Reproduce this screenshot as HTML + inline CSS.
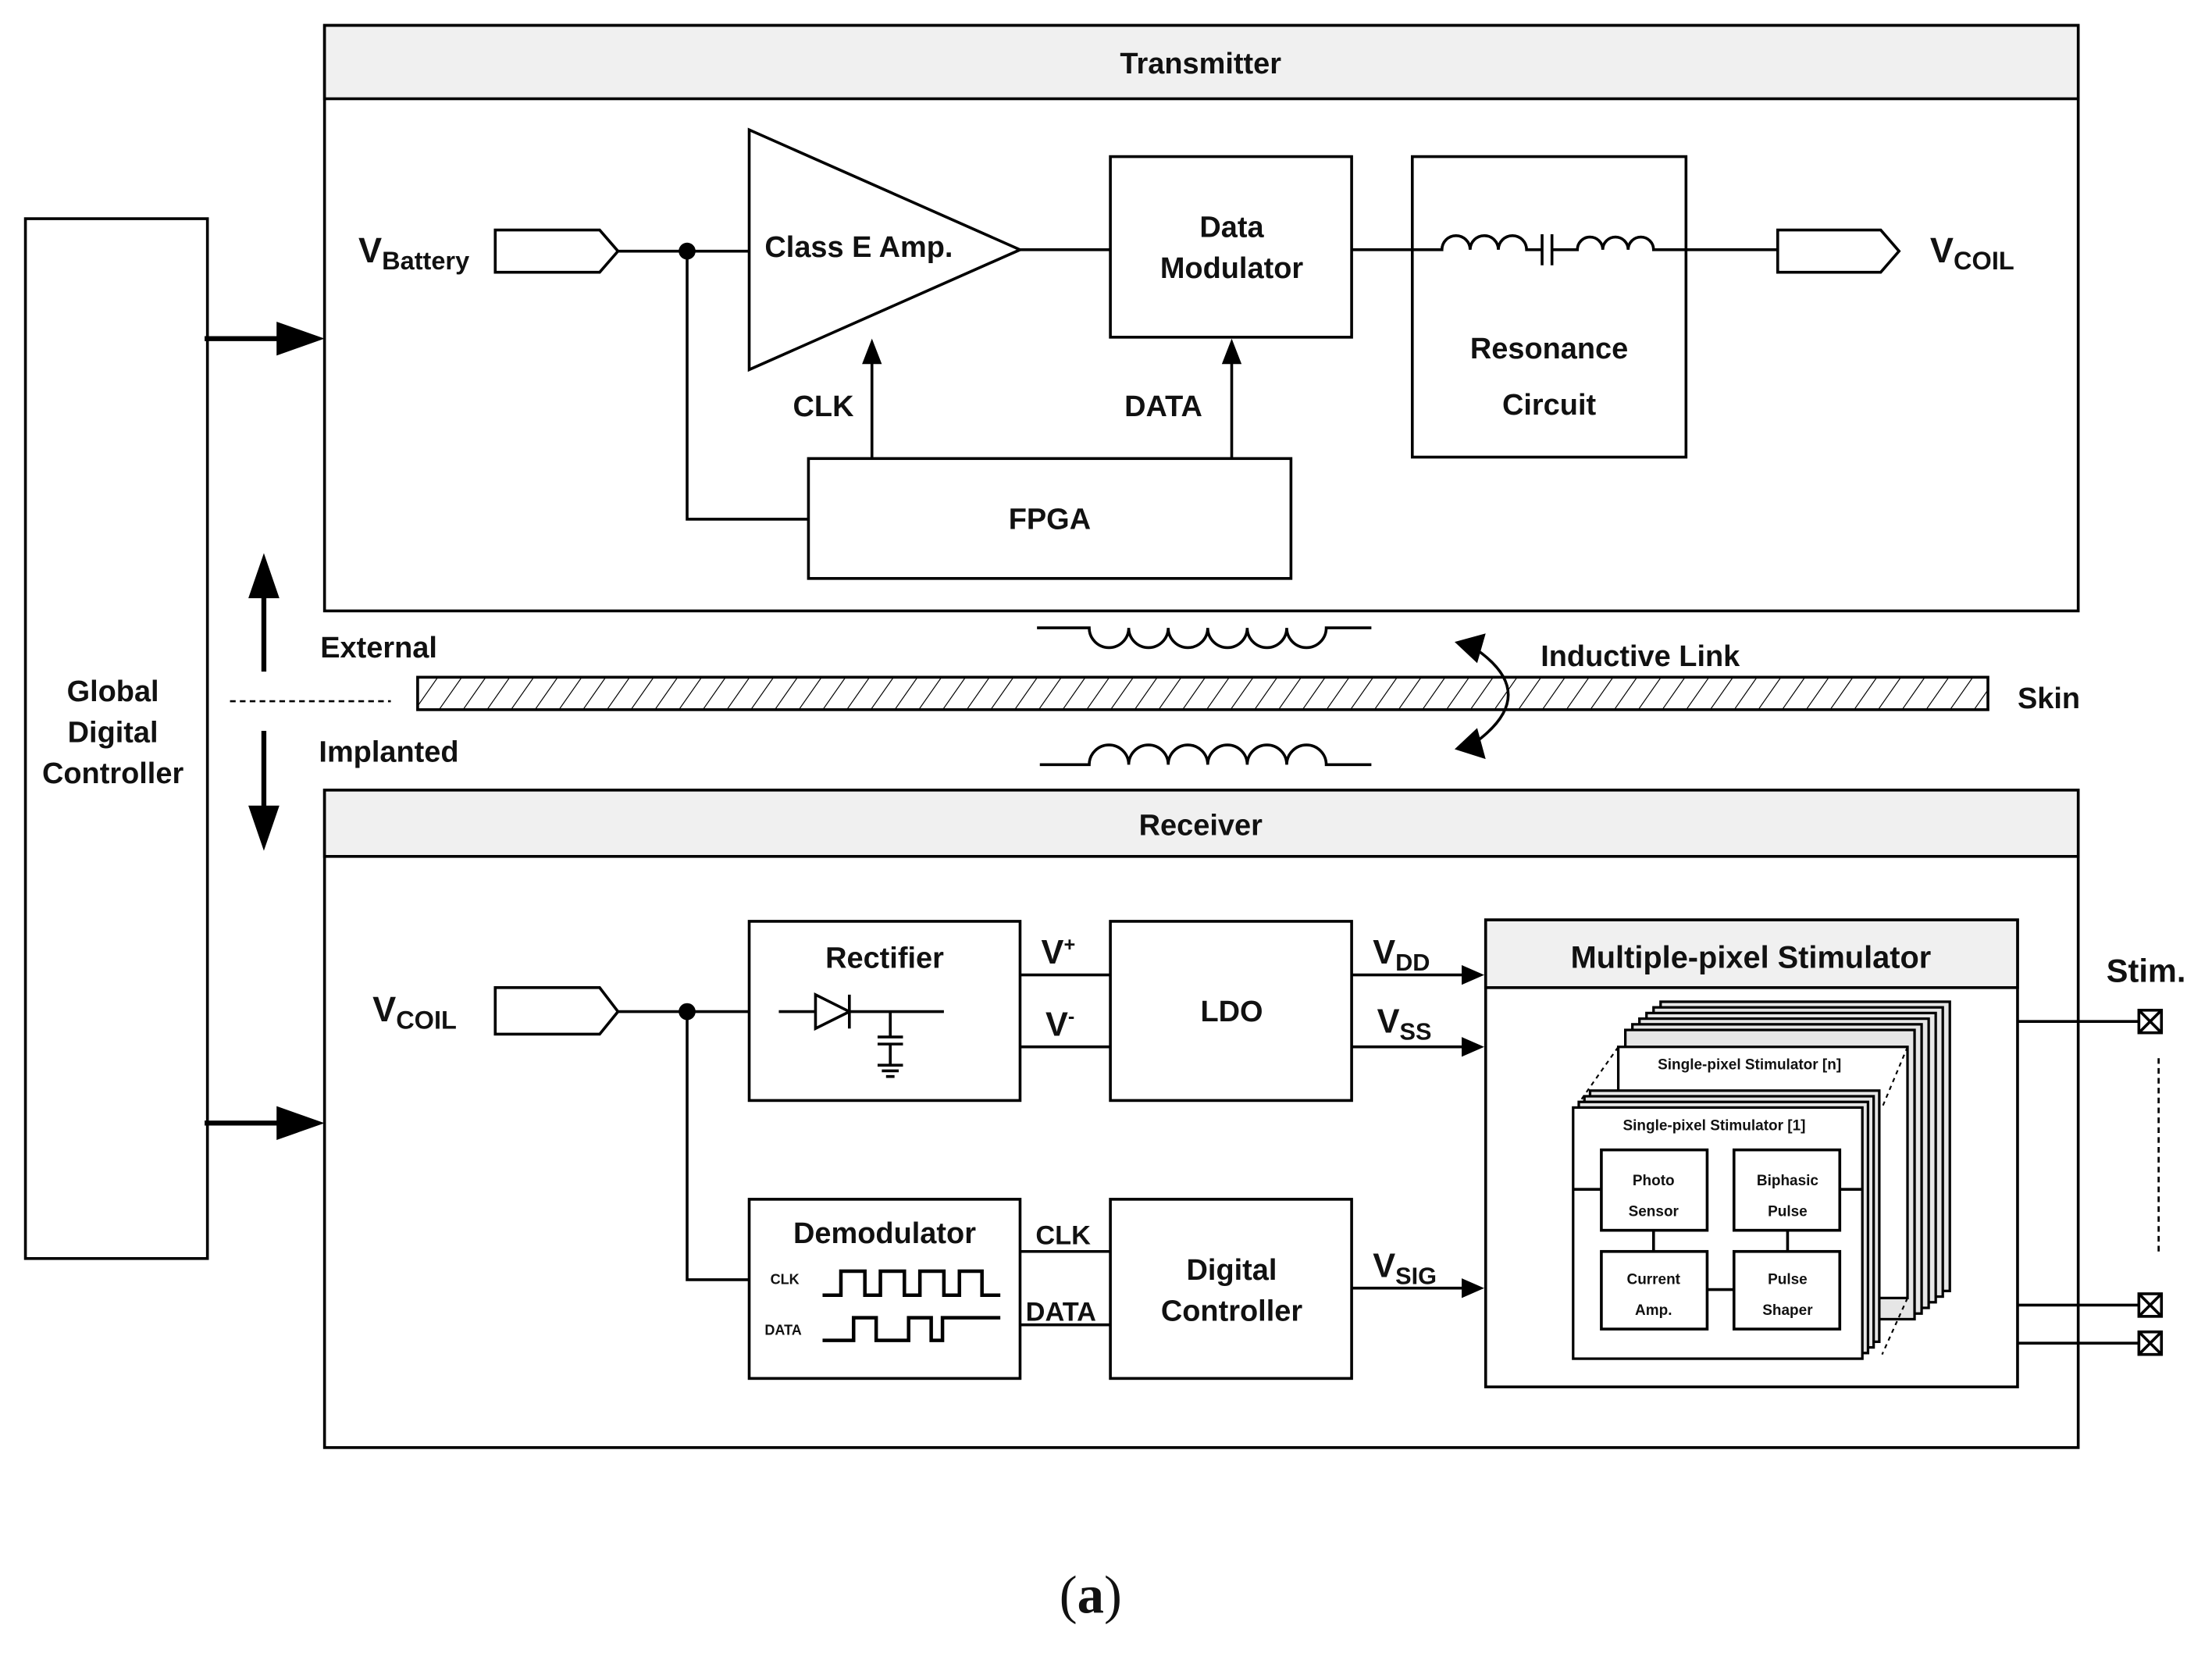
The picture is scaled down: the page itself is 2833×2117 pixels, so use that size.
<!DOCTYPE html>
<html><head><meta charset="utf-8"><style>html,body{margin:0;padding:0;background:#fff}svg{display:block}</style></head><body>
<svg width="2833" height="2117" viewBox="0 0 1567.8 1171.6" xmlns="http://www.w3.org/2000/svg" font-family="Liberation Sans, sans-serif" font-weight="bold">
<defs>
<pattern id="h" patternUnits="userSpaceOnUse" width="17" height="24" patternTransform="skewX(-35)"><line x1="0" y1="0" x2="0" y2="24" stroke="#000" stroke-width="1.6"/></pattern>
</defs>
<g stroke="#000" stroke-width="2" fill="none">
<rect x="18" y="155" width="129" height="737" fill="#fff"/>
<rect x="230" y="18" width="1243" height="415" fill="#fff"/>
<rect x="230" y="18" width="1243" height="52" fill="#f0f0f0"/>
<rect x="230" y="560" width="1243" height="466" fill="#fff"/>
<rect x="230" y="560" width="1243" height="47" fill="#f0f0f0"/>
</g>
<g stroke="#000" stroke-width="3.5" fill="#000">
<line x1="145" y1="240" x2="205" y2="240"/><path d="M230,240 L196,228 L196,252z" stroke="none"/>
<line x1="145" y1="796" x2="205" y2="796"/><path d="M230,796 L196,784 L196,808z" stroke="none"/>
<line x1="187" y1="476" x2="187" y2="420"/><path d="M187,392 L176,424 L198,424z" stroke="none"/>
<line x1="187" y1="518" x2="187" y2="574"/><path d="M187,603 L176,571 L198,571z" stroke="none"/>
</g>
<line x1="163" y1="497" x2="277" y2="497" stroke="#000" stroke-width="1.5" stroke-dasharray="4,3"/>
<rect x="296" y="480" width="1113" height="23" fill="url(#h)" stroke="#000" stroke-width="2"/>
<g stroke="#000" stroke-width="2" fill="none">
<path d="M735,445 H772 a14,14 0 0 0 28,0 a14,14 0 0 0 28,0 a14,14 0 0 0 28,0 a14,14 0 0 0 28,0 a14,14 0 0 0 28,0 a14,14 0 0 0 28,0 H972"/>
<path d="M737,542 H772 a14,14 0 0 1 28,0 a14,14 0 0 1 28,0 a14,14 0 0 1 28,0 a14,14 0 0 1 28,0 a14,14 0 0 1 28,0 a14,14 0 0 1 28,0 H972"/>
<path d="M1046,460 Q1092,492 1046,526"/>
</g>
<path d="M1031,455 L1053,449 L1047,470z" fill="#000"/>
<path d="M1031,531 L1047,516 L1053,538z" fill="#000"/>

<g stroke="#000" stroke-width="2" fill="#fff">
<path d="M351,163 H425 L438,178 L425,193 H351z"/>
<path d="M531,92 L531,262 L723,177z"/>
<rect x="787" y="111" width="171" height="128"/>
<rect x="1001" y="111" width="194" height="213"/>
<rect x="573" y="325" width="342" height="85"/>
<path d="M1260,163 H1333 L1346,178 L1333,193 H1260z"/>
</g>
<g stroke="#000" stroke-width="2" fill="none">
<line x1="438" y1="178" x2="531" y2="178"/>
<polyline points="487,178 487,368 573,368"/>
<line x1="723" y1="177" x2="787" y2="177"/>
<path d="M958,177 H1022 a10,10 0 0 1 20,0 a10,10 0 0 1 20,0 a10,10 0 0 1 20,0 H1093 M1093,166 V188 M1100,166 V188 M1100,177 H1118 a9,9 0 0 1 18,0 a9,9 0 0 1 18,0 a9,9 0 0 1 18,0 H1260"/>
<line x1="618" y1="325" x2="618" y2="255"/>
<line x1="873" y1="325" x2="873" y2="255"/>
</g>
<path d="M618,240 L611,258 L625,258z M873,240 L866,258 L880,258z" fill="#000"/>
<circle cx="487" cy="178" r="6" fill="#000"/>

<g stroke="#000" stroke-width="2" fill="#fff">
<path d="M351,700 H425 L438,717 L425,733 H351z"/>
<rect x="531" y="653" width="192" height="127"/>
<rect x="787" y="653" width="171" height="127"/>
<rect x="531" y="850" width="192" height="127"/>
<rect x="787" y="850" width="171" height="127"/>
<rect x="1053" y="652" width="377" height="331"/>
<rect x="1053" y="652" width="377" height="48" fill="#f0f0f0"/>
</g>
<g stroke="#000" stroke-width="2" fill="none">
<line x1="438" y1="717" x2="531" y2="717"/>
<polyline points="487,717 487,907 531,907"/>
<line x1="723" y1="691" x2="787" y2="691"/>
<line x1="723" y1="742" x2="787" y2="742"/>
<line x1="723" y1="887" x2="787" y2="887"/>
<line x1="723" y1="939" x2="787" y2="939"/>
<line x1="958" y1="691" x2="1038" y2="691"/>
<line x1="958" y1="742" x2="1038" y2="742"/>
<line x1="958" y1="913" x2="1038" y2="913"/>
<path d="M552,717 H578 M578,705 V729 L602,717z M602,705 V729 M602,717 H669 M631,717 V735 M622,735 H640 M622,740 H640 M631,740 V755 M622,755 H640 M625,759 H637 M628,763 H634"/>
<path d="M583,918 H596 V901 H613 V918 H624 V901 H641 V918 H652 V901 H669 V918 H680 V901 H696 V918 H709" stroke-width="2.5"/>
<path d="M583,950 H605 V934 H621 V950 H644 V934 H660 V950 H668 V934 H709" stroke-width="2.5"/>
<line x1="1430" y1="724" x2="1516" y2="724"/>
<line x1="1430" y1="925" x2="1516" y2="925"/>
<line x1="1430" y1="952" x2="1516" y2="952"/>
<line x1="1530" y1="750" x2="1530" y2="890" stroke-width="1.5" stroke-dasharray="4,3"/>
</g>
<path d="M1052,691 L1036,684 L1036,698z M1052,742 L1036,735 L1036,749z M1052,913 L1036,906 L1036,920z" fill="#000"/>
<circle cx="487" cy="717" r="6" fill="#000"/>
<g stroke="#000" stroke-width="2" fill="#fff">
<rect x="1516" y="716" width="16" height="16"/><path d="M1516,716 L1532,732 M1532,716 L1516,732"/>
<rect x="1516" y="917" width="16" height="16"/><path d="M1516,917 L1532,933 M1532,917 L1516,933"/>
<rect x="1516" y="944" width="16" height="16"/><path d="M1516,944 L1532,960 M1532,944 L1516,960"/>
</g>
<g stroke="#000" stroke-width="1.8" fill="#e6e6e6">
<rect x="1177" y="710" width="205" height="205"/>
<rect x="1172" y="714" width="205" height="205"/>
<rect x="1167" y="718" width="205" height="205"/>
<rect x="1162" y="722" width="205" height="205"/>
<rect x="1157" y="726" width="205" height="205"/>
<rect x="1152" y="730" width="205" height="205"/>
<rect x="1147" y="742" width="205" height="178" fill="#fff"/>
<rect x="1127" y="773" width="205" height="178"/>
<rect x="1123" y="777" width="205" height="178"/>
<rect x="1119" y="781" width="205" height="178"/>
<rect x="1115" y="785" width="205" height="178" fill="#fff"/>
</g>
<g stroke="#000" stroke-width="1.2" stroke-dasharray="3,3" fill="none">
<line x1="1121" y1="779" x2="1147" y2="742"/>
<line x1="1352" y1="742" x2="1334" y2="785"/>
<line x1="1352" y1="920" x2="1334" y2="960"/>
</g>
<g stroke="#000" stroke-width="2" fill="#fff">
<line x1="1115" y1="843" x2="1135" y2="843"/>
<line x1="1304" y1="843" x2="1320" y2="843"/>
<line x1="1172" y1="872" x2="1172" y2="887"/>
<line x1="1267" y1="872" x2="1267" y2="887"/>
<line x1="1210" y1="914" x2="1229" y2="914"/>
<rect x="1135" y="815" width="75" height="57"/>
<rect x="1229" y="815" width="75" height="57"/>
<rect x="1135" y="887" width="75" height="55"/>
<rect x="1229" y="887" width="75" height="55"/>
</g>

<g fill="#111" font-size="21">
<text x="851" y="52" text-anchor="middle">Transmitter</text>
<text x="851" y="592" text-anchor="middle">Receiver</text>
<text x="80" y="497" text-anchor="middle">Global</text>
<text x="80" y="526" text-anchor="middle">Digital</text>
<text x="80" y="555" text-anchor="middle">Controller</text>
<text x="227" y="466">External</text>
<text x="226" y="540">Implanted</text>
<text x="1092" y="472">Inductive Link</text>
<text x="1430" y="502">Skin</text>
<text x="254" y="186" font-size="25">V<tspan font-size="18" dy="5">Battery</tspan></text>
<text x="1368" y="186" font-size="25">V<tspan font-size="18" dy="5">COIL</tspan></text>
<text x="264" y="724" font-size="25">V<tspan font-size="18" dy="5">COIL</tspan></text>
<text x="542" y="182">Class E Amp.</text>
<text x="873" y="168" text-anchor="middle">Data</text>
<text x="873" y="197" text-anchor="middle">Modulator</text>
<text x="1098" y="254" text-anchor="middle">Resonance</text>
<text x="1098" y="294" text-anchor="middle">Circuit</text>
<text x="744" y="375" text-anchor="middle">FPGA</text>
<text x="562" y="295">CLK</text>
<text x="797" y="295">DATA</text>
<text x="627" y="686" text-anchor="middle">Rectifier</text>
<text x="873" y="724" text-anchor="middle">LDO</text>
<text x="627" y="881" text-anchor="middle">Demodulator</text>
<text x="873" y="907" text-anchor="middle">Digital</text>
<text x="873" y="936" text-anchor="middle">Controller</text>
<text x="1241" y="686" text-anchor="middle" font-size="22">Multiple-pixel Stimulator</text>
<text x="1493" y="696" font-size="23">Stim.</text>
<text x="738" y="683" font-size="24">V<tspan font-size="14" dy="-9">+</tspan></text>
<text x="741" y="734" font-size="24">V<tspan font-size="14" dy="-9">-</tspan></text>
<text x="734" y="882" font-size="19">CLK</text>
<text x="727" y="936" font-size="19">DATA</text>
<text x="973" y="683" font-size="24">V<tspan font-size="17" dy="5">DD</tspan></text>
<text x="976" y="732" font-size="24">V<tspan font-size="17" dy="5">SS</tspan></text>
<text x="973" y="905" font-size="24">V<tspan font-size="17" dy="5">SIG</tspan></text>
<text x="546" y="910" font-size="10">CLK</text>
<text x="542" y="946" font-size="10">DATA</text>
<text x="1240" y="758" font-size="10.5" text-anchor="middle">Single-pixel Stimulator [n]</text>
<text x="1215" y="801" font-size="10.5" text-anchor="middle">Single-pixel Stimulator [1]</text>
<g font-size="10.5" text-anchor="middle">
<text x="1172" y="840">Photo</text><text x="1172" y="862">Sensor</text>
<text x="1267" y="840">Biphasic</text><text x="1267" y="862">Pulse</text>
<text x="1172" y="910">Current</text><text x="1172" y="932">Amp.</text>
<text x="1267" y="910">Pulse</text><text x="1267" y="932">Shaper</text>
</g>
<text x="773" y="1143" text-anchor="middle" font-family="Liberation Serif, serif" font-size="38" font-weight="normal">(<tspan font-weight="bold">a</tspan>)</text>
</g>
</svg>
</body></html>
